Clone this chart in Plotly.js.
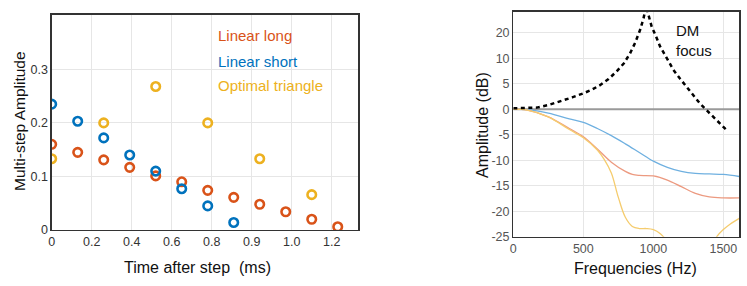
<!DOCTYPE html>
<html>
<head>
<meta charset="utf-8">
<script src="https://cdn.plot.ly/plotly-3.0.1.min.js"></script>
<style>html,body{margin:0;padding:0;background:#fff}#chart{width:747px;height:286px}</style>
</head>
<body>
<div id="chart"></div>
<script>
// ---- Left panel: multi-step amplitudes ----
const stepTimes = [0, 0.13, 0.26, 0.39, 0.52, 0.65, 0.78, 0.91, 1.04, 1.17, 1.30, 1.43];
const linearLong = [0.160, 0.145, 0.131, 0.117, 0.101, 0.090, 0.074, 0.061, 0.048, 0.034, 0.020, 0.006];
const shortTimes = [0, 0.13, 0.26, 0.39, 0.52, 0.65, 0.78, 0.91];
const linearShort = [0.235, 0.203, 0.172, 0.140, 0.110, 0.077, 0.045, 0.014];
const triTimes = [0, 0.26, 0.52, 0.78, 1.04, 1.30];
const optimalTriangle = [0.133, 0.200, 0.268, 0.200, 0.133, 0.066];
const leftXTickVals = [0, 0.2, 0.4, 0.6, 0.8, 1.0, 1.2, 1.4];
const leftXTickText = ['0', '0.2', '0.4', '0.6', '0.8', '0.9', '1.0', '1.2'];
const leftYTickVals = [0, 0.1, 0.2, 0.3];
const leftYTickText = ['0', '0.1', '0.2', '0.3'];
const seriesNames = ['Linear long', 'Linear short', 'Optimal triangle'];

// ---- Right panel: frequency response ----
const freqBlue = [0, 100, 250, 400, 500, 600, 700, 800, 900, 1000, 1100, 1200, 1300, 1400, 1500, 1614];
const ampBlue = [0, -0.1, -0.8, -1.9, -2.6, -3.8, -5.2, -6.8, -8.5, -10.2, -11.4, -12.2, -12.6, -12.7, -12.8, -13.2];
const freqOrange = [0, 100, 250, 400, 500, 600, 700, 800, 850, 900, 1000, 1100, 1200, 1300, 1400, 1500, 1614];
const ampOrange = [0, -0.2, -1.5, -3.8, -5.4, -7.8, -10.4, -12.2, -12.8, -13.0, -13.1, -13.9, -15.2, -16.5, -17.2, -17.4, -17.4];
const freqYellow = [0, 100, 250, 400, 500, 600, 650, 700, 750, 800, 850, 900, 950, 1000, 1050, 1100, 1200, 1300, 1400, 1453, 1500, 1550, 1614];
const ampYellow = [0, -0.2, -1.5, -4.0, -5.6, -8.0, -9.9, -12.5, -17.3, -21.2, -23.0, -23.4, -23.4, -23.6, -24.4, -26, -31, -32, -28, -25.0, -23.6, -22.5, -21.4];
const freqDM = [0, 80, 167, 250, 333, 420, 500, 560, 619, 680, 738, 790, 833, 870, 905, 930, 948, 970, 988, 1020, 1048, 1100, 1143, 1190, 1238, 1285, 1333, 1380, 1429, 1480, 1531];
const ampDM = [0.16, 0.18, 0.3, 0.8, 1.5, 2.3, 3.1, 3.8, 4.7, 5.9, 7.4, 9.0, 10.9, 13.0, 15.5, 17.8, 20.2, 18.0, 16.2, 14.2, 12.3, 9.8, 7.7, 6.0, 4.4, 2.7, 1.1, -0.2, -1.5, -2.9, -4.3];
const rightXTickVals = [0, 500, 1000, 1500];
const rightYTickVals = [15, 10, 5, 0, -5, -10, -15, -20, -25];
const rightYTickText = ['20', '10', '5', '0', '-5', '-10', '-15', '-20', '-25'];

const cRed = '#D95319', cBlue = '#0072BD', cYel = '#EDB120';
const mk = (c) => ({symbol: 'circle-open', size: 8.5, color: c, line: {color: c, width: 2.6}});
const FONT = 'Liberation Sans, Arial, sans-serif';

const traces = [
  {x: stepTimes, y: linearLong, type: 'scatter', mode: 'markers', marker: mk(cRed), xaxis: 'x', yaxis: 'y', name: seriesNames[0]},
  {x: shortTimes, y: linearShort, type: 'scatter', mode: 'markers', marker: mk(cBlue), xaxis: 'x', yaxis: 'y', name: seriesNames[1]},
  {x: triTimes, y: optimalTriangle, type: 'scatter', mode: 'markers', marker: mk(cYel), xaxis: 'x', yaxis: 'y', name: seriesNames[2]},
  {x: [0, 1614], y: [0, 0], type: 'scatter', mode: 'lines', line: {color: '#9a9a9a', width: 2}, xaxis: 'x2', yaxis: 'y2'},
  {x: freqBlue, y: ampBlue, type: 'scatter', mode: 'lines', line: {color: '#6fb0e0', width: 1.3, shape: 'spline'}, xaxis: 'x2', yaxis: 'y2'},
  {x: freqOrange, y: ampOrange, type: 'scatter', mode: 'lines', line: {color: '#ec9a80', width: 1.3, shape: 'spline'}, xaxis: 'x2', yaxis: 'y2'},
  {x: freqYellow, y: ampYellow, type: 'scatter', mode: 'lines', line: {color: '#f5cc6e', width: 1.3, shape: 'spline'}, xaxis: 'x2', yaxis: 'y2'},
  {x: freqDM, y: ampDM, type: 'scatter', mode: 'lines', line: {color: '#000', width: 2.5, dash: '4px,3.5px'}, xaxis: 'x2', yaxis: 'y2'}
];

const tickFont = {family: FONT, size: 12.5, color: '#333'};
const axBase = {showgrid: true, gridcolor: '#e6e6e6', gridwidth: 1, zeroline: false, showline: true,
  linecolor: '#333', linewidth: 1.3, mirror: true, ticks: '', tickfont: tickFont, fixedrange: true};

const layout = {
  width: 747, height: 286, margin: {l: 0, r: 0, t: 0, b: 0}, showlegend: false,
  paper_bgcolor: '#fff', plot_bgcolor: '#fff',
  xaxis: Object.assign({}, axBase, {domain: [0.0692, 0.4797], range: [0, 1.533], tickmode: 'array',
    tickvals: leftXTickVals, ticktext: leftXTickText, anchor: 'y'}),
  yaxis: Object.assign({}, axBase, {domain: [0.1958, 0.9486], range: [0, 0.402], tickmode: 'array',
    tickvals: leftYTickVals, ticktext: leftYTickText, anchor: 'x'}),
  xaxis2: Object.assign({}, axBase, {domain: [0.6872, 0.9897], range: [0, 1614], tickmode: 'array',
    tickvals: rightXTickVals, ticktext: rightXTickVals.map(String), anchor: 'y2', tickfont: Object.assign({}, tickFont, {color: '#555'})}),
  yaxis2: Object.assign({}, axBase, {domain: [0.1724, 0.9591], range: [-25, 19.1], tickmode: 'array',
    tickvals: rightYTickVals, ticktext: rightYTickText, anchor: 'x2', tickfont: Object.assign({}, tickFont, {color: '#555'})}),
  shapes: [
    {type: 'rect', xref: 'paper', yref: 'paper', x0: 213/747, x1: 340/747, y0: (286-98)/286, y1: (286-16)/286,
     fillcolor: '#fff', line: {width: 0}, layer: 'below'}
  ],
  annotations: [
    {text: seriesNames[0], x: 216/747, y: 1 - 36/286, xref: 'paper', yref: 'paper', xanchor: 'left', yanchor: 'middle', showarrow: false,
     font: {family: FONT, size: 15, color: cRed}},
    {text: seriesNames[1], x: 216/747, y: 1 - 61/286, xref: 'paper', yref: 'paper', xanchor: 'left', yanchor: 'middle', showarrow: false,
     font: {family: FONT, size: 15, color: cBlue}},
    {text: seriesNames[2], x: 216/747, y: 1 - 86/286, xref: 'paper', yref: 'paper', xanchor: 'left', yanchor: 'middle', showarrow: false,
     font: {family: FONT, size: 15, color: cYel}},
    {text: 'Multi-step Amplitude', x: 19/747, y: 1 - 121/286, xref: 'paper', yref: 'paper', textangle: -90, showarrow: false,
     xanchor: 'center', yanchor: 'middle', font: {family: FONT, size: 15.5, color: '#111'}},
    {text: 'Time after step  (ms)', x: 197/747, y: 1 - 267/286, xref: 'paper', yref: 'paper', showarrow: false,
     xanchor: 'center', yanchor: 'middle', font: {family: FONT, size: 16, color: '#111'}},
    {text: 'Amplitude (dB)', x: 482/747, y: 1 - 125/286, xref: 'paper', yref: 'paper', textangle: -90, showarrow: false,
     xanchor: 'center', yanchor: 'middle', font: {family: FONT, size: 16, color: '#111'}},
    {text: 'Frequencies (Hz)', x: 635/747, y: 1 - 268/286, xref: 'paper', yref: 'paper', showarrow: false,
     xanchor: 'center', yanchor: 'middle', font: {family: FONT, size: 16, color: '#111'}},
    {text: 'DM<br>focus', x: 674/747, y: 1 - 40/286, xref: 'paper', yref: 'paper', showarrow: false, align: 'left',
     xanchor: 'left', yanchor: 'middle', font: {family: FONT, size: 15, color: '#111'}}
  ]
};

Plotly.newPlot('chart', traces, layout, {displayModeBar: false, staticPlot: true});
</script>
</body>
</html>
